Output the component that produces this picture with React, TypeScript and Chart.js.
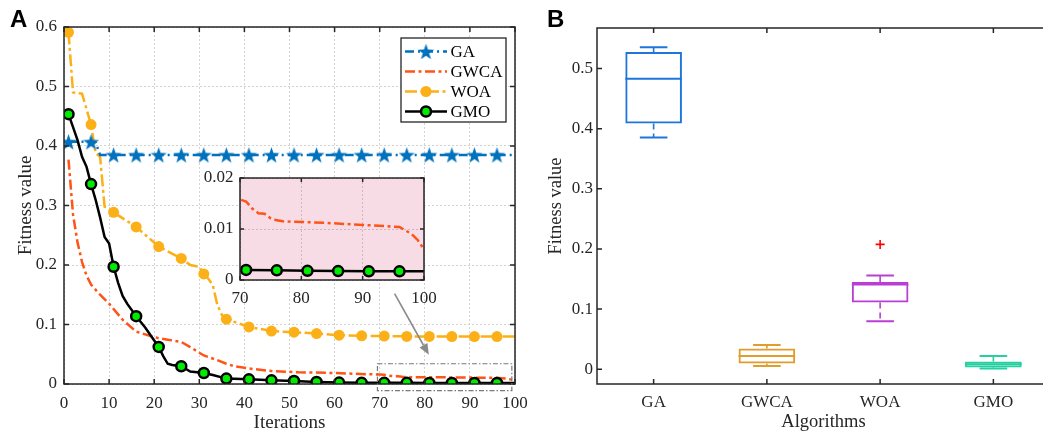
import React, { useEffect, useRef } from 'react';
import { Chart, registerables } from 'chart.js';

Chart.register(...registerables);

// ---------------- Panel A: convergence curves ----------------
const iterTicks = [0, 10, 20, 30, 40, 50, 60, 70, 80, 90, 100];
const fitnessTicksA = [0, 0.1, 0.2, 0.3, 0.4, 0.5, 0.6];
const insetIterTicks = [70, 80, 90, 100];
const insetFitnessTicks = [0, 0.01, 0.02];
const markerIters = [1, 6, 11, 16, 21, 26, 31, 36, 41, 46, 51, 56, 61, 66, 71, 76, 81, 86, 91, 96];
const seriesNames = ['GA', 'GWCA', 'WOA', 'GMO'];

const gaCurve: number[][] = [
  [1, 0.407], [6, 0.407], [7, 0.406], [8, 0.385], [11, 0.385], [16, 0.385], [21, 0.385], [26, 0.385],
  [31, 0.385], [36, 0.385], [41, 0.385], [46, 0.385], [51, 0.385], [56, 0.385], [61, 0.385], [66, 0.385],
  [71, 0.385], [76, 0.385], [81, 0.385], [86, 0.385], [91, 0.385], [96, 0.385], [100, 0.385],
];
const gwcaCurve: number[][] = [
  [1, 0.377], [2, 0.285], [3, 0.238], [4, 0.205], [5, 0.182], [6, 0.167], [8, 0.15], [10, 0.135],
  [13, 0.108], [16, 0.088], [19, 0.081], [21, 0.077], [23, 0.0745], [26, 0.0707], [28, 0.062], [31, 0.048],
  [34, 0.04], [36, 0.034], [38, 0.0295], [41, 0.026], [46, 0.0218], [52, 0.0197], [60, 0.0185], [67, 0.0165],
  [70, 0.0158], [71, 0.0154], [72, 0.014], [73, 0.0131], [74, 0.013], [75, 0.0121], [76, 0.0117], [77, 0.0115],
  [84, 0.0112], [90, 0.0108], [96, 0.0104], [97, 0.0097], [98, 0.009], [99, 0.0078], [100, 0.006],
];
const woaCurve: number[][] = [
  [1, 0.591], [2, 0.49], [4, 0.488], [6, 0.436], [7, 0.388], [8, 0.382], [9, 0.298], [11, 0.2885],
  [16, 0.264], [21, 0.231], [26, 0.211], [28, 0.2], [30, 0.197], [31, 0.185], [32, 0.177], [33, 0.166],
  [34, 0.133], [35, 0.116], [36, 0.109], [41, 0.096], [46, 0.089], [51, 0.087], [56, 0.0848], [61, 0.082],
  [66, 0.081], [71, 0.0805], [76, 0.08], [81, 0.08], [86, 0.0798], [91, 0.0797], [96, 0.0797], [100, 0.0797],
];
const gmoCurve: number[][] = [
  [1, 0.4535], [3, 0.41], [4, 0.382], [5, 0.365], [6, 0.336], [7, 0.31], [8, 0.28], [9, 0.247],
  [10, 0.236], [11, 0.197], [12, 0.17], [13, 0.148], [14, 0.135], [16, 0.114], [18, 0.095], [21, 0.0623],
  [22, 0.047], [23, 0.034], [24, 0.032], [26, 0.0298], [28, 0.021], [31, 0.0185], [33, 0.015], [36, 0.0091],
  [41, 0.0079], [46, 0.0062], [51, 0.005], [56, 0.0034], [61, 0.0024], [66, 0.002], [71, 0.00197], [76, 0.0019],
  [81, 0.0018], [86, 0.00175], [91, 0.0017], [96, 0.0017], [100, 0.0017],
];

// zoom annotation (data coordinates)
const zoomBoxIter = [69.5, 99.3];
const zoomBoxFitness = [-0.011, 0.034];
const arrowIter = [73.3, 80.9];
const arrowFitness = [0.152, 0.049];

// ---------------- Panel B: box plots ----------------
const boxLabels = ['GA', 'GWCA', 'WOA', 'GMO'];
const boxMin = [0.3852, 0.0055, 0.0799, 0.0011];
const boxQ1 = [0.4085, 0.0094, 0.111, 0.0028];
const boxMedian = [0.4829, 0.0222, 0.141, 0.0083];
const boxQ3 = [0.5273, 0.0344, 0.1449, 0.0128];
const boxMax = [0.5351, 0.0405, 0.156, 0.0222];
const boxOutliers = [null, null, 0.2076, null];
const fitnessTicksB = [0, 0.1, 0.2, 0.3, 0.4, 0.5];

// ---------------- styles ----------------
const FONT = 'Liberation Serif';
const TXT = '#262626';
const GRID = '#d2d2d2';
const GA_C = 'rgb(0,114,189)';
const GWCA_C = 'rgb(255,84,24)';
const WOA_C = 'rgb(252,176,24)';
const GMO_FILL = 'rgb(0,235,0)';
const BOX_COLORS = ['rgb(30,118,220)', 'rgb(226,156,44)', 'rgb(186,62,214)', 'rgb(36,208,160)'];
const PINK = 'rgb(247,220,230)';

function makeStar(color: string, R: number, r: number): HTMLCanvasElement {
  const c = document.createElement('canvas');
  const s = Math.ceil(R * 2 + 2);
  c.width = s;
  c.height = s;
  const g = c.getContext('2d')!;
  g.translate(s / 2, s / 2 + 0.8);
  g.beginPath();
  for (let k = 0; k < 10; k++) {
    const ang = -Math.PI / 2 + (k * Math.PI) / 5;
    const rad = k % 2 === 0 ? R : r;
    g.lineTo(rad * Math.cos(ang), rad * Math.sin(ang));
  }
  g.closePath();
  g.fillStyle = color;
  g.fill();
  return c;
}

function framePlugin(id: string, o: { bg?: string; top: boolean; right: boolean; tick: number; width: number }) {
  return {
    id,
    beforeDraw(chart: any) {
      if (!o.bg) return;
      const { ctx, chartArea: a } = chart;
      ctx.save();
      ctx.fillStyle = o.bg;
      ctx.fillRect(a.left, a.top, a.right - a.left, a.bottom - a.top);
      ctx.restore();
    },
    afterDatasetsDraw(chart: any) {
      const { ctx, chartArea: a, scales } = chart;
      const xs = scales.x;
      const ys = scales.y;
      ctx.save();
      ctx.strokeStyle = TXT;
      ctx.lineWidth = o.width;
      ctx.setLineDash([]);
      ctx.beginPath();
      xs.ticks.forEach((_: any, i: number) => {
        const px = xs.getPixelForTick(i);
        ctx.moveTo(px, a.bottom);
        ctx.lineTo(px, a.bottom - o.tick);
        if (o.top) {
          ctx.moveTo(px, a.top);
          ctx.lineTo(px, a.top + o.tick);
        }
      });
      ys.ticks.forEach((_: any, i: number) => {
        const py = ys.getPixelForTick(i);
        ctx.moveTo(a.left, py);
        ctx.lineTo(a.left + o.tick, py);
        if (o.right) {
          ctx.moveTo(a.right, py);
          ctx.lineTo(a.right - o.tick, py);
        }
      });
      ctx.stroke();
      ctx.strokeRect(a.left, a.top, a.right - a.left, a.bottom - a.top);
      ctx.restore();
    },
  };
}

const pts = (curve: number[][]) => curve.map(([x, y]) => ({ x, y }));
const isMarker = (c: any) => !!c.raw && markerIters.includes(c.raw.x);
const setTicks = (vals: number[]) => (s: any) => {
  s.ticks = vals.map((v) => ({ value: v }));
};
const fitX = (h: number) => (s: any) => {
  s.height = h;
  s.paddingLeft = 0;
  s.paddingRight = 0;
};
const fitY = (w: number) => (s: any) => {
  s.width = w;
  s.paddingTop = 0;
  s.paddingBottom = 0;
};

function buildMain(canvas: HTMLCanvasElement) {
  const star = makeStar(GA_C, 8.5, 3.4);
  const legendPlugin = {
    id: 'boxLegend',
    afterDraw(chart: any) {
      const { ctx, chartArea: a } = chart;
      const w = 105;
      const h = 84;
      const x0 = a.right - 9 - w;
      const y0 = a.top + 11;
      ctx.save();
      ctx.fillStyle = '#fff';
      ctx.fillRect(x0, y0, w, h);
      ctx.strokeStyle = TXT;
      ctx.lineWidth = 1.3;
      ctx.strokeRect(x0, y0, w, h);
      chart.data.datasets.forEach((ds: any, i: number) => {
        const cy = y0 + 13.5 + i * 20;
        ctx.setLineDash(ds.borderDash || []);
        ctx.strokeStyle = ds.borderColor;
        ctx.lineWidth = ds.borderWidth;
        ctx.beginPath();
        ctx.moveTo(x0 + 4, cy);
        ctx.lineTo(x0 + 46, cy);
        ctx.stroke();
        ctx.setLineDash([]);
        const mx = x0 + 25;
        if (i === 0) {
          ctx.drawImage(star, mx - star.width / 2, cy - star.height / 2);
        } else if (i === 2) {
          ctx.fillStyle = WOA_C;
          ctx.beginPath();
          ctx.arc(mx, cy, 5.5, 0, Math.PI * 2);
          ctx.fill();
        } else if (i === 3) {
          ctx.fillStyle = GMO_FILL;
          ctx.strokeStyle = '#000';
          ctx.lineWidth = 2.5;
          ctx.beginPath();
          ctx.arc(mx, cy, 5, 0, Math.PI * 2);
          ctx.fill();
          ctx.stroke();
        }
        ctx.fillStyle = '#000';
        ctx.font = `17px "${FONT}"`;
        ctx.textAlign = 'left';
        ctx.textBaseline = 'middle';
        ctx.fillText(seriesNames[i], x0 + 49.5, cy + 1);
      });
      ctx.restore();
    },
  };
  const annotPlugin = {
    id: 'zoomAnnot',
    afterDraw(chart: any) {
      const { ctx, scales } = chart;
      const xs = scales.x;
      const ys = scales.y;
      ctx.save();
      const l = xs.getPixelForValue(zoomBoxIter[0]);
      const r = xs.getPixelForValue(zoomBoxIter[1]);
      const t = ys.getPixelForValue(zoomBoxFitness[1]);
      const b = ys.getPixelForValue(zoomBoxFitness[0]);
      ctx.strokeStyle = '#7a7a7a';
      ctx.lineWidth = 1.2;
      ctx.setLineDash([5, 2, 1.5, 2]);
      ctx.strokeRect(l, t, r - l, b - t);
      ctx.setLineDash([]);
      const x1 = xs.getPixelForValue(arrowIter[0]);
      const y1 = ys.getPixelForValue(arrowFitness[0]);
      const x2 = xs.getPixelForValue(arrowIter[1]);
      const y2 = ys.getPixelForValue(arrowFitness[1]);
      const ang = Math.atan2(y2 - y1, x2 - x1);
      const hl = 11;
      const hw = 4.5;
      ctx.strokeStyle = '#8a8a8a';
      ctx.fillStyle = '#8a8a8a';
      ctx.lineWidth = 1.6;
      ctx.beginPath();
      ctx.moveTo(x1, y1);
      ctx.lineTo(x2 - Math.cos(ang) * hl, y2 - Math.sin(ang) * hl);
      ctx.stroke();
      ctx.beginPath();
      ctx.moveTo(x2, y2);
      ctx.lineTo(x2 - Math.cos(ang) * hl - Math.sin(ang) * hw, y2 - Math.sin(ang) * hl + Math.cos(ang) * hw);
      ctx.lineTo(x2 - Math.cos(ang) * hl + Math.sin(ang) * hw, y2 - Math.sin(ang) * hl - Math.cos(ang) * hw);
      ctx.closePath();
      ctx.fill();
      ctx.restore();
    },
  };
  return new Chart(canvas, {
    type: 'line',
    data: {
      datasets: [
        {
          label: 'GA', data: pts(gaCurve), borderColor: GA_C, borderWidth: 2.5, borderDash: [9, 4, 2, 4],
          pointStyle: star as any, pointRadius: (c: any) => (isMarker(c) ? 8 : 0), order: 1,
        },
        {
          label: 'GWCA', data: pts(gwcaCurve), borderColor: GWCA_C, borderWidth: 2.5, borderDash: [10, 3.5, 3, 3.5],
          pointRadius: 0, order: 3,
        },
        {
          label: 'WOA', data: pts(woaCurve), borderColor: WOA_C, borderWidth: 2.5, borderDash: [12, 3.5, 3, 3.5],
          pointStyle: 'circle', pointRadius: (c: any) => (isMarker(c) ? 5.5 : 0),
          pointBackgroundColor: WOA_C, pointBorderColor: WOA_C, pointBorderWidth: 0, order: 2,
        },
        {
          label: 'GMO', data: pts(gmoCurve), borderColor: '#000', borderWidth: 2.5,
          pointStyle: 'circle', pointRadius: (c: any) => (isMarker(c) ? 5 : 0),
          pointBackgroundColor: GMO_FILL, pointBorderColor: '#000', pointBorderWidth: 2.5, order: 0,
        },
      ] as any,
    },
    options: {
      responsive: false,
      animation: false,
      devicePixelRatio: 1,
      events: [],
      layout: { autoPadding: false, padding: { left: 0, right: 15, top: 27, bottom: 0 } },
      elements: { line: { tension: 0 } },
      plugins: { legend: { display: false }, tooltip: { enabled: false } },
      scales: {
        x: {
          type: 'linear', min: 0, max: 100,
          afterBuildTicks: setTicks(iterTicks),
          afterFit: fitX(52),
          ticks: { font: { family: FONT, size: 17 }, color: TXT, padding: 9, maxRotation: 0, autoSkip: false, callback: (v: any) => String(v) },
          grid: { color: GRID, lineWidth: 1, drawTicks: false },
          border: { display: false, dash: [2, 2] },
          title: { display: true, text: 'Iterations', font: { family: FONT, size: 19 }, color: TXT, padding: { top: 0, bottom: 2 } },
        },
        y: {
          type: 'linear', min: 0, max: 0.6,
          afterBuildTicks: setTicks(fitnessTicksA),
          afterFit: fitY(64),
          ticks: { font: { family: FONT, size: 17 }, color: TXT, padding: 7, autoSkip: false, callback: (v: any) => String(v) },
          grid: { color: GRID, lineWidth: 1, drawTicks: false },
          border: { display: false, dash: [2, 2] },
          title: { display: true, text: 'Fitness value', font: { family: FONT, size: 19 }, color: TXT, padding: { top: 14.6, bottom: 0 } },
        },
      },
    } as any,
    plugins: [framePlugin('frameA', { top: true, right: true, tick: 5, width: 1.5 }), annotPlugin, legendPlugin] as any,
  });
}

function buildInset(canvas: HTMLCanvasElement) {
  return new Chart(canvas, {
    type: 'line',
    data: {
      datasets: [
        { label: 'GWCA', data: pts(gwcaCurve), borderColor: GWCA_C, borderWidth: 2.5, borderDash: [10, 3.5, 3, 3.5], pointRadius: 0, order: 1 },
        {
          label: 'GMO', data: pts(gmoCurve), borderColor: '#000', borderWidth: 2.5, pointStyle: 'circle',
          pointRadius: (c: any) => (isMarker(c) ? 5 : 0), pointBackgroundColor: GMO_FILL, pointBorderColor: '#000',
          pointBorderWidth: 2.5, order: 0,
        },
      ] as any,
    },
    options: {
      responsive: false,
      animation: false,
      devicePixelRatio: 1,
      events: [],
      layout: { autoPadding: false, padding: { left: 0, right: 21, top: 13, bottom: 0 } },
      elements: { line: { tension: 0 } },
      plugins: { legend: { display: false }, tooltip: { enabled: false } },
      scales: {
        x: {
          type: 'linear', min: 70, max: 100,
          afterBuildTicks: setTicks(insetIterTicks),
          afterFit: fitX(30),
          ticks: { font: { family: FONT, size: 17 }, color: TXT, padding: 8, maxRotation: 0, autoSkip: false, callback: (v: any) => String(v) },
          grid: { color: '#c9b8bf', lineWidth: 1, drawTicks: false },
          border: { display: false, dash: [2, 2] },
        },
        y: {
          type: 'linear', min: 0, max: 0.02,
          afterBuildTicks: setTicks(insetFitnessTicks),
          afterFit: fitY(50),
          ticks: { font: { family: FONT, size: 17 }, color: TXT, padding: 6.5, autoSkip: false, callback: (v: any) => String(v) },
          grid: { color: '#c9b8bf', lineWidth: 1, drawTicks: false },
          border: { display: false, dash: [2, 2] },
        },
      },
    } as any,
    plugins: [framePlugin('frameI', { bg: PINK, top: true, right: true, tick: 4, width: 1.5 })] as any,
  });
}

function buildBox(canvas: HTMLCanvasElement) {
  const whiskerPlugin = {
    id: 'whiskers',
    beforeDatasetsDraw(chart: any) {
      const { ctx, scales } = chart;
      const xs = scales.x;
      const ys = scales.y;
      ctx.save();
      ctx.lineWidth = 1.6;
      ctx.setLineDash([6, 4]);
      boxLabels.forEach((_, i) => {
        const px = xs.getPixelForValue(i);
        ctx.strokeStyle = BOX_COLORS[i];
        ctx.beginPath();
        ctx.moveTo(px, ys.getPixelForValue(boxQ3[i]));
        ctx.lineTo(px, ys.getPixelForValue(boxMax[i]));
        ctx.moveTo(px, ys.getPixelForValue(boxQ1[i]));
        ctx.lineTo(px, ys.getPixelForValue(boxMin[i]));
        ctx.stroke();
      });
      ctx.restore();
    },
  };
  return new Chart(canvas, {
    type: 'bar',
    data: {
      labels: boxLabels,
      datasets: [
        {
          type: 'bar', label: 'box', data: boxLabels.map((_, i) => [boxQ1[i], boxQ3[i]]),
          backgroundColor: 'rgba(0,0,0,0)', borderColor: BOX_COLORS, borderWidth: 2, borderSkipped: false,
          barPercentage: 0.5, categoryPercentage: 1,
        },
        {
          type: 'line', label: 'median', data: boxMedian, showLine: false, pointStyle: 'line',
          pointRadius: 28.3, pointBorderColor: BOX_COLORS, pointBorderWidth: 2,
        },
        {
          type: 'line', label: 'max', data: boxMax, showLine: false, pointStyle: 'line',
          pointRadius: 13.8, pointBorderColor: BOX_COLORS, pointBorderWidth: 2,
        },
        {
          type: 'line', label: 'min', data: boxMin, showLine: false, pointStyle: 'line',
          pointRadius: 13.8, pointBorderColor: BOX_COLORS, pointBorderWidth: 2,
        },
        {
          type: 'line', label: 'outlier', data: boxOutliers, showLine: false, pointStyle: 'cross',
          pointRadius: 4.5, pointBorderColor: '#ff0000', pointBorderWidth: 1.6,
        },
      ] as any,
    },
    options: {
      responsive: false,
      animation: false,
      devicePixelRatio: 1,
      events: [],
      layout: { autoPadding: false, padding: { left: 0, right: 10, top: 28, bottom: 0 } },
      plugins: { legend: { display: false }, tooltip: { enabled: false } },
      scales: {
        x: {
          type: 'category', offset: true,
          afterFit: fitX(52),
          ticks: { font: { family: FONT, size: 17 }, color: TXT, padding: 8, maxRotation: 0, autoSkip: false },
          grid: { display: false, drawTicks: false, offset: true },
          border: { display: false },
          title: { display: true, text: 'Algorithms', font: { family: FONT, size: 18.5 }, color: TXT, padding: { top: 0, bottom: 2.5 } },
        },
        y: {
          type: 'linear', min: -0.0245, max: 0.5673,
          afterBuildTicks: setTicks(fitnessTicksB),
          afterFit: fitY(67),
          ticks: { font: { family: FONT, size: 17 }, color: TXT, padding: 4, autoSkip: false, callback: (v: any) => String(v) },
          grid: { display: false, drawTicks: false },
          border: { display: false },
          title: { display: true, text: 'Fitness value', font: { family: FONT, size: 18.5 }, color: TXT, padding: { top: 15, bottom: 0 } },
        },
      },
    } as any,
    plugins: [framePlugin('frameB', { top: true, right: false, tick: 5, width: 1.5 }), whiskerPlugin] as any,
  });
}

export default function App() {
  const refA = useRef<HTMLCanvasElement>(null);
  const refI = useRef<HTMLCanvasElement>(null);
  const refB = useRef<HTMLCanvasElement>(null);

  useEffect(() => {
    const charts = [buildMain(refA.current!), buildBox(refB.current!), buildInset(refI.current!)];
    return () => charts.forEach((c) => c.destroy());
  }, []);

  const letter: React.CSSProperties = {
    position: 'absolute', top: 7, font: 'bold 24px "Liberation Sans"', lineHeight: '24px', color: '#000',
  };

  return (
    <div style={{ position: 'fixed', left: 0, top: 0, width: 1043, height: 436, overflow: 'hidden', background: '#fff' }}>
      <canvas ref={refA} width={530} height={436} style={{ position: 'absolute', left: 0, top: 0, width: 530, height: 436 }} />
      <canvas ref={refB} width={530} height={436} style={{ position: 'absolute', left: 530, top: 0, width: 530, height: 436 }} />
      <canvas ref={refI} width={255} height={145} style={{ position: 'absolute', left: 190, top: 165, width: 255, height: 145 }} />
      <div style={{ ...letter, left: 10 }}>A</div>
      <div style={{ ...letter, left: 547 }}>B</div>
    </div>
  );
}
